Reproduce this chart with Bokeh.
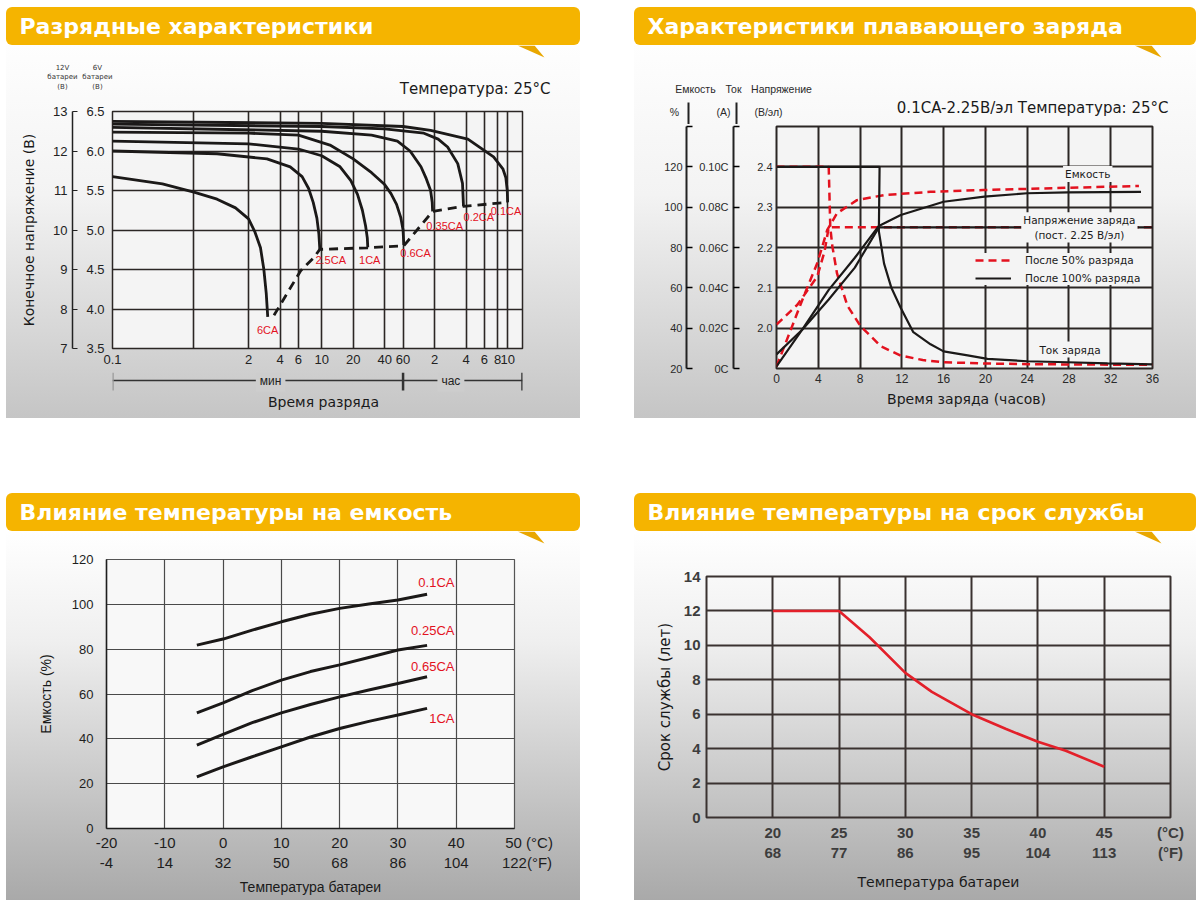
from bokeh.plotting import figure
from bokeh.layouts import column, row
from bokeh.models import (Range1d, LinearAxis, LogAxis, FixedTicker, Label, Legend,
                          LegendItem, PolyAnnotation, Spacer)
from bokeh.embed import file_html
from bokeh.resources import INLINE

# ======================= DATA =======================
# --- Panel 1: discharge characteristics (x = minutes, y = volts of a 12 V battery)
discharge_tick_min = [0.1, 0.6, 2, 4, 6, 10, 20, 40, 60, 120, 240, 360, 480, 600]
discharge_tick_text = ["0.1", "", "2", "4", "6", "10", "20", "40", "60", "2", "4", "6", "8", "10"]
volt12_ticks = [7, 8, 9, 10, 11, 12, 13]
volt6_ticks = [3.5, 4.0, 4.5, 5.0, 5.5, 6.0, 6.5]
volt6_text = ["3.5", "4.0", "4.5", "5.0", "5.5", "6.0", "6.5"]
unit_sep_min = [0.1, 60, 832]
unit_label_min = [3.25, 172]
unit_label_text = ["мин", "час"]

rate_names = ["6CA", "2.5CA", "1CA", "0.6CA", "0.35CA", "0.2CA", "0.1CA"]
t_6ca = [0.1, 0.3, 0.6, 1.0, 1.5, 2.0, 2.3, 2.6, 2.8, 2.95, 3.05]
v_6ca = [11.35, 11.17, 10.96, 10.78, 10.56, 10.28, 9.95, 9.55, 9.0, 8.4, 7.8]
t_25ca = [0.1, 1, 3, 5, 6.5, 7.5, 8.3, 9.0, 9.4, 9.6]
v_25ca = [12.0, 11.93, 11.8, 11.6, 11.35, 11.05, 10.7, 10.3, 9.9, 9.5]
t_1ca = [0.1, 2, 6, 10, 15, 19, 22, 24.5, 26.3, 27.3, 27.6]
v_1ca = [12.25, 12.18, 12.05, 11.88, 11.6, 11.25, 10.9, 10.5, 10.1, 9.8, 9.56]
t_06ca = [0.1, 2, 6, 12, 20, 30, 40, 46, 52, 57, 60, 61]
v_06ca = [12.48, 12.45, 12.4, 12.15, 11.8, 11.45, 11.15, 10.92, 10.65, 10.32, 10.0, 9.62]
t_035ca = [0.1, 10, 30, 53, 70, 89, 100, 110, 114, 115]
v_035ca = [12.6, 12.5, 12.4, 12.25, 12.0, 11.6, 11.3, 11.0, 10.7, 10.47]
t_02ca = [0.1, 10, 40, 95, 130, 160, 200, 222, 227]
v_02ca = [12.68, 12.62, 12.56, 12.45, 12.3, 12.1, 11.68, 11.18, 10.6]
t_01ca = [0.1, 10, 60, 110, 250, 440, 540, 576, 595, 600]
v_01ca = [12.75, 12.7, 12.62, 12.52, 12.3, 11.85, 11.55, 11.33, 11.0, 10.7]
end_t = [3.5, 6.3, 8.4, 9.6, 27.5, 61, 115, 227, 600]
end_v = [7.84, 8.97, 9.3, 9.51, 9.55, 9.6, 10.47, 10.6, 10.7]
rate_label_t = [3.04, 12.2, 28.8, 79, 150, 318, 810]
rate_label_v = [7.46, 9.25, 9.25, 9.43, 10.11, 10.34, 10.47]

# --- Panel 2: float charge characteristics (x = hours)
charge_hours_ticks = [0, 4, 8, 12, 16, 20, 24, 28, 32, 36]
volt_cell_ticks = [1.9, 2.0, 2.1, 2.2, 2.3, 2.4, 2.5]
volt_cell_text = ["", "2.0", "2.1", "2.2", "2.3", "2.4", ""]
current_ticks = [0, 0.02, 0.04, 0.06, 0.08, 0.10, 0.12]
current_text = ["0C", "0.02C", "0.04C", "0.06C", "0.08C", "0.10C", ""]
capacity_ticks = [20, 40, 60, 80, 100, 120, 140]
capacity_text = ["20", "40", "60", "80", "100", "120", ""]

volt50_t = [0, 2.0, 3.9, 4.6, 5.0, 36]
volt50_v = [2.009, 2.058, 2.128, 2.19, 2.25, 2.25]
cur50_t = [0, 5.0, 5.15, 5.35, 5.8, 6.8, 8.05, 10.0, 11.9, 14.0, 16.0, 20.0, 24.8, 36]
cur50_c = [0.1, 0.1, 0.070, 0.0605, 0.047, 0.031, 0.021, 0.011, 0.0064, 0.0042, 0.0031, 0.0025, 0.0021, 0.0018]
cap50_t = [0, 1.0, 2.6, 3.9, 4.86, 5.8, 7.7, 10.3, 14.75, 19.8, 27.8, 34.7]
cap50_c = [21, 34.3, 55.7, 72.2, 88.7, 97, 103.5, 106, 107.6, 108.5, 109.6, 110.5]

volt100_t = [0, 2.46, 5, 7.5, 9.8, 36]
volt100_v = [1.935, 1.996, 2.071, 2.15, 2.25, 2.25]
cur100_t = [0, 9.87, 9.8, 10.3, 11.0, 11.9, 13.1, 14.75, 16.0, 18.3, 20.2, 24.0, 27.9, 31.7, 36]
cur100_c = [0.1, 0.1, 0.068, 0.052, 0.040, 0.030, 0.018, 0.012, 0.0085, 0.0065, 0.0048, 0.0036, 0.0031, 0.0025, 0.002]
cap100_t = [0, 2.46, 5, 7.5, 9.8, 11.9, 16.0, 19.9, 24.0, 27.9, 34.9]
cap100_c = [21, 39.3, 59, 74.9, 90.7, 96.1, 102.7, 105.2, 106.9, 107.3, 107.6]

# --- Panel 3: temperature effect on capacity
temp_c_ticks = [-20, -10, 0, 10, 20, 30, 40, 50]
temp_f_text = ["-4", "14", "32", "50", "68", "86", "104", "122"]
cap_pct_ticks = [0, 20, 40, 60, 80, 100, 120]
temp_x = [-4.5, 0, 5, 10, 15, 20, 25, 30, 35]
cap_01ca = [81.8, 84.5, 88.5, 92.2, 95.6, 98.2, 100.1, 101.9, 104.5]
cap_025ca = [51.6, 56, 61.5, 66.2, 70, 73, 76.3, 79.6, 81.7]
cap_065ca = [37.2, 42, 47.2, 51.6, 55.3, 58.7, 61.8, 64.7, 67.7]
cap_1ca = [23, 27.5, 32, 36.4, 40.8, 44.6, 47.8, 50.6, 53.6]
cap_rate_names = ["0.1CA", "0.25CA", "0.65CA", "1CA"]
cap_label_y = [109.8, 88.2, 72.1, 49.1]

# --- Panel 4: temperature effect on service life
life_c_ticks = [20, 25, 30, 35, 40, 45, 50]
life_tick_text = ["20\n68", "25\n77", "30\n86", "35\n95", "40\n104", "45\n113", "(°C)\n(°F)"]
life_y_ticks = [0, 2, 4, 6, 8, 10, 12, 14]
life_temp = [20, 25, 27.3, 30, 32, 35, 37.6, 40, 42.1, 45]
life_years = [12.0, 12.0, 10.47, 8.4, 7.3, 6.0, 5.14, 4.4, 3.88, 2.95]

titles = ["Разрядные характеристики", "Характеристики плавающего заряда",
          "Влияние температуры на емкость", "Влияние температуры на срок службы"]

# ======================= STYLE =======================
ORANGE = "#F5B400"
TAIL = "#E9A700"
RED = "#E3121F"
INK = "#1b1918"
GRID = "#2b2624"
SANS = "Liberation Sans"
DJ = "DejaVu Sans"
NB = "\u00a0"
TOP_GRAD = "linear-gradient(180deg, #fefefe 0%, #f3f3f3 40%, #c5c5c5 100%)"
BOT_GRAD = "linear-gradient(180deg, #ffffff 0%, #efefef 30%, #a9a9a9 100%)"
LW, RW = 574, 562


def base_fig(**kw):
    p = figure(output_backend="svg", toolbar_location=None, **kw)
    p.border_fill_color = None
    return p


def strip(width, height, **kw):
    kw.setdefault("x_range", Range1d(0, width))
    s = base_fig(width=width, height=height, y_range=Range1d(0, height),
                 x_axis_location=None, y_axis_location=None, min_border=0, **kw)
    s.background_fill_color = None
    s.outline_line_color = None
    s.grid.visible = False
    return s


def banner(text, width):
    b = strip(width, 38)
    b.styles = {"background": ORANGE, "border-radius": "6px"}
    b.add_layout(Label(x=13, y=19, x_units="screen", y_units="screen", text=text,
                       text_color="white", text_font=DJ, text_font_style="bold",
                       text_font_size="22px", text_baseline="middle"))
    return b


def tail(p, xs, ys):
    p.add_layout(PolyAnnotation(xs=xs, ys=ys, xs_units="screen", ys_units="screen",
                                fill_color=TAIL, fill_alpha=1, line_color=None))


def txt(p, x, y, text, size, font=SANS, color="#1a1a1a", align="center", **kw):
    p.add_layout(Label(x=x, y=y, text=text, text_font=font, text_font_size=size,
                       text_color=color, text_align=align, text_baseline="middle", **kw))


def tick_style(ax, size="13px", font=SANS, color="#222222"):
    ax.major_label_text_font = font
    ax.major_label_text_font_size = size
    ax.major_label_text_color = color
    ax.axis_label_text_font_style = "normal"
    ax.major_tick_in = 0
    ax.major_tick_out = 0
    ax.minor_tick_in = 0
    ax.minor_tick_out = 0


def spacer_label(ax, gap):
    ax.axis_label = " "
    ax.axis_label_text_font_size = "1px"
    ax.axis_label_standoff = gap


def panel(banner_fig, parts, grad):
    body = column(*[row(f) for f in parts], styles={"background": grad})
    return column(row(banner_fig), body)


# ======================= PANEL 1 =======================
top1 = strip(LW, 56)
tail(top1, [511, 528, 538], [56, 56, 44])
txt(top1, 544, 13, "Температура: 25°C", "15px", font=DJ, align="right",
    x_units="screen", y_units="screen")
txt(top1, 56, 24, "12V\nбатареи\n(В)", "7px", font=DJ, color="#333333",
    x_units="screen", y_units="screen")
txt(top1, 91, 24, "6V\nбатареи\n(В)", "7px", font=DJ, color="#333333",
    x_units="screen", y_units="screen")

p1 = base_fig(width=LW, height=271, x_axis_type="log", x_range=Range1d(0.1, 832),
              y_range=Range1d(3.5, 6.5), min_border_left=106, min_border_top=10,
              min_border_right=58, min_border_bottom=24)
p1.extra_y_ranges = {"v12": Range1d(7, 13)}
p1.background_fill_color = "#f4f4f4"
p1.outline_line_color = GRID
p1.outline_line_width = 1.5

xt1 = FixedTicker(ticks=discharge_tick_min)
ax = p1.xaxis[0]
ax.ticker = xt1
ax.major_label_overrides = dict(zip(discharge_tick_min, discharge_tick_text))
tick_style(ax)
ax.axis_line_color = None
ax.major_label_standoff = 6
p1.xgrid.ticker = xt1

yt6 = FixedTicker(ticks=volt6_ticks)
ay = p1.yaxis[0]
ay.ticker = yt6
ay.major_label_overrides = dict(zip(volt6_ticks, volt6_text))
tick_style(ay)
ay.axis_line_color = None
ay.major_label_standoff = 8
spacer_label(ay, 7)
p1.ygrid.ticker = yt6

ay12 = LinearAxis(y_range_name="v12", ticker=FixedTicker(ticks=volt12_ticks))
tick_style(ay12)
ay12.major_tick_in = 5
ay12.major_tick_line_color = "#222222"
ay12.axis_line_color = "#222222"
ay12.axis_line_width = 1.5
ay12.major_label_standoff = 5
ay12.axis_label = "Конечное напряжение (В)"
ay12.axis_label_text_font = DJ
ay12.axis_label_text_font_size = "14px"
ay12.axis_label_text_color = "#1a1a1a"
ay12.axis_label_standoff = 13
p1.add_layout(ay12, "left")

for g in (p1.xgrid[0], p1.ygrid[0]):
    g.grid_line_color = GRID
    g.grid_line_width = 1.6

discharge_t = [t_6ca, t_25ca, t_1ca, t_06ca, t_035ca, t_02ca, t_01ca]
discharge_v = [v_6ca, v_25ca, v_1ca, v_06ca, v_035ca, v_02ca, v_01ca]
for tt, vv in zip(discharge_t, discharge_v):
    p1.line(tt, vv, y_range_name="v12", line_color=INK, line_width=2.8)
p1.line(end_t, end_v, y_range_name="v12", line_color=INK, line_width=2.8, line_dash="9 6")
for i, (name, tx, vy) in enumerate(zip(rate_names, rate_label_t, rate_label_v)):
    txt(p1, tx, vy, name, "11px", color=RED, y_range_name="v12",
        align="right" if i == len(rate_names) - 1 else "center")

bot1 = strip(LW, 46, x_axis_type="log", x_range=p1.x_range, min_border_left=106,
             min_border_right=58)
bot1.line([unit_sep_min[0], unit_sep_min[-1]], [38, 38], line_color="#333333", line_width=1.3)
bot1.segment(x0=unit_sep_min, y0=[46] * 3, x1=unit_sep_min, y1=[28] * 3,
             line_color=["#9a9a9a", "#333333", "#333333"], line_width=2.5)
for t_, xpos in zip(unit_label_text, unit_label_min):
    txt(bot1, xpos, 38, t_, "12px", color="#222222", background_fill_color="#cdcdcd", padding=4)
txt(bot1, 211, 17, "Время разряда", "14px", font=DJ, x_units="screen", y_units="screen")

# ======================= PANEL 2 =======================
top2 = strip(RW, 79)
tail(top2, [500, 517, 527], [79, 79, 67])
top2.segment(x0=[54, 102], y0=[0, 0], x1=[54, 102], y1=[22, 22], line_color="#222222",
             line_width=2)
for t_, sx, sy in [("Емкость", 61, 36), ("Ток", 99, 36), ("Напряжение", 147, 36),
                   ("%", 40, 13), ("(A)", 89, 13), ("(В/эл)", 134, 13)]:
    txt(top2, sx, sy, t_, "10.5px", color="#2a2a2a")
txt(top2, 534, 17, "0.1CA-2.25В/эл Температура: 25°C", "15px", font=DJ, align="right")

p2 = base_fig(width=RW, height=264, x_range=Range1d(0, 36), y_range=Range1d(1.9, 2.5),
              min_border_left=142, min_border_top=2, min_border_right=44, min_border_bottom=20)
p2.extra_y_ranges = {"cur": Range1d(0, 0.12), "cap": Range1d(20, 140)}
p2.background_fill_color = "#f4f4f4"
p2.outline_line_color = GRID
p2.outline_line_width = 2

xt2 = FixedTicker(ticks=charge_hours_ticks)
ax = p2.xaxis[0]
ax.ticker = xt2
tick_style(ax, size="12px", color="#2a2a2a")
ax.axis_line_color = None
ax.major_label_standoff = 5
p2.xgrid.ticker = xt2

ytv = FixedTicker(ticks=volt_cell_ticks)
ay = p2.yaxis[0]
ay.ticker = ytv
ay.major_label_overrides = dict(zip(volt_cell_ticks, volt_cell_text))
tick_style(ay, size="11px", color="#2a2a2a")
ay.axis_line_color = None
ay.major_label_standoff = 4
spacer_label(ay, 17)
p2.ygrid.ticker = ytv

ayc = LinearAxis(y_range_name="cur", ticker=FixedTicker(ticks=current_ticks))
ayc.major_label_overrides = dict(zip(current_ticks, current_text))
tick_style(ayc, size="11px", color="#2a2a2a")
ayc.major_tick_in = 6
ayc.axis_line_width = 2
ayc.axis_line_color = "#222222"
ayc.major_tick_line_width = 1.5
ayc.major_label_standoff = 5
spacer_label(ayc, 6)
p2.add_layout(ayc, "left")

ayp = LinearAxis(y_range_name="cap", ticker=FixedTicker(ticks=capacity_ticks))
ayp.major_label_overrides = dict(zip(capacity_ticks, capacity_text))
tick_style(ayp, size="11px", color="#2a2a2a")
ayp.major_tick_in = 6
ayp.axis_line_width = 2
ayp.axis_line_color = "#222222"
ayp.major_tick_line_width = 1.5
ayp.major_label_standoff = 4
p2.add_layout(ayp, "left")

for g in (p2.xgrid[0], p2.ygrid[0]):
    g.grid_line_color = GRID
    g.grid_line_width = 2

dash = "8 5"
p2.line(cap50_t, cap50_c, y_range_name="cap", line_color=RED, line_width=2.5, line_dash=dash)
r_cur50 = p2.line(cur50_t, cur50_c, y_range_name="cur", line_color=RED, line_width=2.5, line_dash=dash)
p2.line(volt50_t, volt50_v, line_color=RED, line_width=2.5, line_dash=dash)
p2.line(cap100_t, cap100_c, y_range_name="cap", line_color=INK, line_width=2.2)
r_cur100 = p2.line(cur100_t, cur100_c, y_range_name="cur", line_color=INK, line_width=2.2)
p2.line(volt100_t, volt100_v, line_color=INK, line_width=2.2)

leg = Legend(items=[LegendItem(label="После 50% разряда", renderers=[r_cur50]),
                    LegendItem(label="После 100% разряда", renderers=[r_cur100])],
             location=(199, 83), background_fill_color="#f4f4f4", background_fill_alpha=1,
             border_line_color=None, label_text_font=DJ, label_text_font_size="10.5px",
             label_text_color="#1a1a1a", glyph_width=36, glyph_height=14, label_standoff=14,
             spacing=4, padding=1, margin=0, label_height=14)
p2.add_layout(leg)

for t_, tx, vy in [("Емкость", 29.8, 2.382),
                   ("Напряжение заряда\n(пост. 2.25 В/эл)", 29.0, 2.25),
                   ("Ток заряда", 28.1, 1.947)]:
    txt(p2, tx, vy, t_, "10.5px", font=DJ, background_fill_color="#f4f4f4", padding=2)

bot2 = strip(RW, 30)
txt(bot2, 332, 20, "Время заряда (часов)", "14px", font=DJ)

# ======================= PANEL 3 =======================
top3 = strip(LW, 17)
tail(top3, [511, 528, 538], [17, 17, 5])

p3 = base_fig(width=LW, height=352, x_range=Range1d(-20, 50), y_range=Range1d(0, 120),
              min_border_left=100, min_border_top=11, min_border_right=66, min_border_bottom=72)
p3.background_fill_color = "#f8f8f8"
p3.outline_line_color = "#555555"
p3.outline_line_width = 1.2

xt3 = FixedTicker(ticks=temp_c_ticks)
ax = p3.xaxis[0]
ax.ticker = xt3
over3 = {c: f"{c}\n{f}" for c, f in zip(temp_c_ticks, temp_f_text)}
over3[temp_c_ticks[-1]] = NB * 7 + f"{temp_c_ticks[-1]} (°C)\n" + NB * 6 + f"{temp_f_text[-1]}(°F)"
ax.major_label_overrides = over3
tick_style(ax, size="15px", color="#1e1e1e")
ax.axis_line_color = "#1e1e1e"
ax.axis_line_width = 1.5
ax.major_label_standoff = 5
ax.axis_label = "Температура батареи"
ax.axis_label_text_font = SANS
ax.axis_label_text_font_size = "14px"
ax.axis_label_text_color = "#1a1a1a"
ax.axis_label_standoff = 5
p3.xgrid.ticker = xt3

yt3 = FixedTicker(ticks=cap_pct_ticks)
ay = p3.yaxis[0]
ay.ticker = yt3
tick_style(ay, size="13px", color="#1e1e1e")
ay.axis_line_color = "#1e1e1e"
ay.axis_line_width = 1.5
ay.major_label_standoff = 13
ay.axis_label = "Емкость (%)"
ay.axis_label_text_font = SANS
ay.axis_label_text_font_size = "14px"
ay.axis_label_text_color = "#1a1a1a"
ay.axis_label_standoff = 15
p3.ygrid.ticker = yt3

for g in (p3.xgrid[0], p3.ygrid[0]):
    g.grid_line_color = "#4a4a4a"
    g.grid_line_width = 1.2

for series in (cap_01ca, cap_025ca, cap_065ca, cap_1ca):
    p3.line(temp_x, series, line_color=INK, line_width=3)
for name, ly in zip(cap_rate_names, cap_label_y):
    txt(p3, 39.7, ly, name, "13px", color=RED, align="right")

# ======================= PANEL 4 =======================
top4 = strip(RW, 29)
tail(top4, [500, 517, 527], [29, 29, 17])

p4 = base_fig(width=RW, height=340, x_range=Range1d(15, 50), y_range=Range1d(0, 14),
              min_border_left=72, min_border_top=16, min_border_right=26, min_border_bottom=83)
p4.background_fill_color = None
p4.outline_line_color = "#3a3230"
p4.outline_line_width = 2

xt4 = FixedTicker(ticks=life_c_ticks)
ax = p4.xaxis[0]
ax.ticker = xt4
ax.major_label_overrides = dict(zip(life_c_ticks, life_tick_text))
tick_style(ax, size="15px", color="#3d3d3d")
ax.major_label_text_font_style = "bold"
ax.axis_line_color = None
ax.major_label_standoff = 6
ax.axis_label = "Температура батареи"
ax.axis_label_text_font = DJ
ax.axis_label_text_font_size = "14px"
ax.axis_label_text_color = "#1a1a1a"
ax.axis_label_standoff = 10
p4.xgrid.ticker = xt4

yt4 = FixedTicker(ticks=life_y_ticks)
ay = p4.yaxis[0]
ay.ticker = yt4
tick_style(ay, size="15px", color="#3d3d3d")
ay.major_label_text_font_style = "bold"
ay.axis_line_color = None
ay.major_label_standoff = 6
ay.axis_label = "Срок службы (лет)"
ay.axis_label_text_font = DJ
ay.axis_label_text_font_size = "15px"
ay.axis_label_text_color = "#1a1a1a"
ay.axis_label_standoff = 7
p4.ygrid.ticker = yt4

for g in (p4.xgrid[0], p4.ygrid[0]):
    g.grid_line_color = "#3a3230"
    g.grid_line_width = 2

p4.line(life_temp, life_years, line_color="#E3202A", line_width=2.6)

# ======================= LAYOUT =======================
block1 = panel(banner(titles[0], LW), [top1, p1, bot1], TOP_GRAD)
block2 = panel(banner(titles[1], RW), [top2, p2, bot2], TOP_GRAD)
block3 = panel(banner(titles[2], LW), [top3, p3], BOT_GRAD)
block4 = panel(banner(titles[3], RW), [top4, p4], BOT_GRAD)

layout = row(
    Spacer(width=6),
    column(
        Spacer(height=7),
        row(block1, block2, spacing=54),
        Spacer(height=75),
        row(block3, block4, spacing=54),
    ),
)

open("out.html", "w").write(file_html(layout, INLINE))
